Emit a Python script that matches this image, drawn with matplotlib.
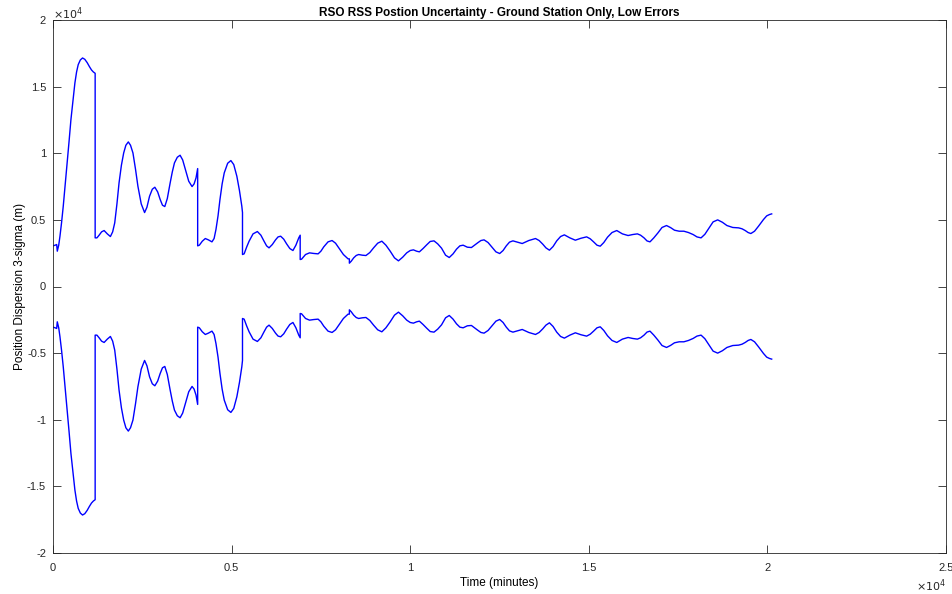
import matplotlib
matplotlib.use('Agg')
import matplotlib.pyplot as plt
import numpy as np
from matplotlib.ticker import FuncFormatter

# upper 3-sigma envelope (minutes, metres);
# repeated times are the covariance resets (vertical drops)
time_min = [
    0, 60, 103, 120, 160, 195, 240, 287, 340, 399, 450, 502, 560, 613, 660,
    706, 765, 827, 890, 957, 1020, 1078, 1130, 1180,
    1180, 1230, 1291, 1360, 1431, 1520, 1607, 1670, 1728, 1790, 1849, 1915,
    1979, 2040, 2109, 2170, 2238, 2310, 2377, 2470, 2564, 2630, 2703, 2780,
    2851, 2930, 3001, 3065, 3130, 3200, 3280, 3340, 3400, 3480, 3558, 3630,
    3707, 3800, 3893, 3950, 4004, 4050,
    4050, 4097, 4180, 4264, 4350, 4450, 4510, 4562, 4620, 4674, 4735, 4794,
    4890, 4980, 5060, 5147, 5220, 5286, 5305,
    5305, 5351, 5420, 5490, 5600, 5722, 5820, 5908, 5980, 6048, 6140, 6230,
    6300, 6373, 6460, 6540, 6630, 6717, 6800, 6880, 6920,
    6920, 6959, 7070, 7182, 7300, 7422, 7500, 7580, 7700, 7813, 7910, 8000,
    8130, 8260, 8297,
    8297, 8350, 8418, 8490, 8557, 8660, 8761, 8870, 8975, 9090, 9206, 9320,
    9440, 9560, 9671, 9790, 9903, 10000, 10090, 10180, 10257, 10360, 10461,
    10560, 10666, 10770, 10878, 10990, 11093, 11200, 11296, 11390, 11482,
    11600, 11714, 11800, 11900, 11980, 12068, 12180, 12300, 12400, 12505,
    12600, 12690, 12780, 12876, 13000, 13136, 13320, 13508, 13610, 13712,
    13800, 13898, 14000, 14102, 14210, 14316, 14470, 14623, 14780, 14939,
    15040, 15134, 15230, 15320, 15420, 15524, 15650, 15783, 15940, 16100,
    16230, 16360, 16450, 16546, 16630, 16713, 16820, 16936, 17050, 17176,
    17290, 17399, 17530, 17661, 17790, 17920, 18030, 18143, 18250, 18358,
    18480, 18608, 18740, 18867, 19030, 19195, 19290, 19379, 19460, 19537,
    19640, 19751, 19890, 19980, 20058, 20120]
sigma_up = [
    3050, 3100, 3150, 2650, 3100, 3775, 4800, 6025, 7600, 9275, 10900, 12525,
    14000, 15275, 16100, 16650, 17000, 17150, 17050, 16800, 16500, 16250,
    16100, 16000,
    3650, 3650, 3850, 4100, 4200, 3950, 3750, 4100, 4775, 6200, 7775, 9100,
    10025, 10600, 10850, 10600, 10025, 8800, 7525, 6200, 5550, 5950, 6775,
    7300, 7450, 7100, 6525, 6100, 6000, 6600, 7775, 8600, 9275, 9700, 9850,
    9500, 8775, 7900, 7500, 7700, 8150, 8850,
    3050, 3100, 3400, 3600, 3500, 3350, 3600, 4275, 5300, 6525, 7700, 8525,
    9250, 9450, 9150, 8275, 7200, 6025, 5550,
    2400, 2450, 2950, 3400, 3950, 4125, 3850, 3400, 3050, 2900, 3150, 3500,
    3720, 3775, 3550, 3200, 2850, 2700, 3100, 3650, 3850,
    2025, 2050, 2400, 2525, 2480, 2450, 2650, 2975, 3350, 3450, 3250, 2900,
    2400, 2075, 2075,
    1750, 1900, 2150, 2330, 2400, 2350, 2325, 2550, 2900, 3250, 3400, 3100,
    2650, 2150, 1925, 2200, 2525, 2700, 2750, 2650, 2600, 2850, 3125,
    3380, 3425, 3200, 2875, 2350, 2175, 2450, 2800, 3050, 3100,
    2950, 2925, 3100, 3300, 3450, 3500, 3300, 2925, 2600, 2475,
    2700, 3050, 3330, 3425, 3330, 3225, 3450, 3600, 3450, 3175,
    2900, 2725, 3000, 3425, 3750, 3875, 3650, 3475, 3620, 3725,
    3580, 3350, 3100, 3025, 3300, 3700, 4050, 4200, 3950, 3825,
    3900, 3950, 3850, 3650, 3420, 3350, 3650, 4025, 4430, 4575,
    4420, 4225, 4150, 4150, 4050, 3900, 3720, 3650, 3920, 4350,
    4850, 5000, 4820, 4575, 4430, 4400, 4330, 4200, 4050, 3975,
    4150, 4525, 5025, 5300, 5400, 5450]

x_ticks = [0, 5000, 10000, 15000, 20000, 25000]
y_ticks = [-20000, -15000, -10000, -5000, 0, 5000, 10000, 15000, 20000]

plt.rcParams['font.family'] = ['Liberation Sans', 'DejaVu Sans']

fig = plt.figure(figsize=(9.53, 5.94), dpi=100)
ax = fig.add_axes([53 / 953, 41 / 594, 893 / 953, 533 / 594])

t = np.array(time_min)
s = np.array(sigma_up)
ax.plot(t, s, color='#0000ff', lw=1.0)
ax.plot(t, -s, color='#0000ff', lw=1.0)

ax.set_xlim(0, 25000)
ax.set_ylim(-20000, 20000)
ax.set_xticks(x_ticks)
ax.set_yticks(y_ticks)
fmt = FuncFormatter(lambda v, p: '%g' % (v / 1e4))
ax.xaxis.set_major_formatter(fmt)
ax.yaxis.set_major_formatter(fmt)

ax.tick_params(direction='in', length=6, width=0.6, colors='#262626',
               labelsize=8, top=True, right=True)
ax.tick_params(axis='y', pad=5)
ax.tick_params(axis='x', pad=7)
for sp in ax.spines.values():
    sp.set_color('#262626')
    sp.set_linewidth(0.6)

ax.set_title('RSO RSS Postion Uncertainty - Ground Station Only, Low Errors',
             fontsize=8.5, fontweight='bold', pad=3)
ax.set_xlabel('Time (minutes)', fontsize=8.5, labelpad=3)
ax.set_ylabel('Position Dispersion 3-sigma (m)', fontsize=8.5, labelpad=1)

ax.text(0.0, 0.996, r'$\times10^{4}$', transform=ax.transAxes, fontsize=8,
        ha='left', va='bottom', color='#262626')
ax.text(1.0, -0.045, r'$\times10^{4}$', transform=ax.transAxes, fontsize=8,
        ha='right', va='top', color='#262626')

fig.savefig('out.png', dpi=100)
